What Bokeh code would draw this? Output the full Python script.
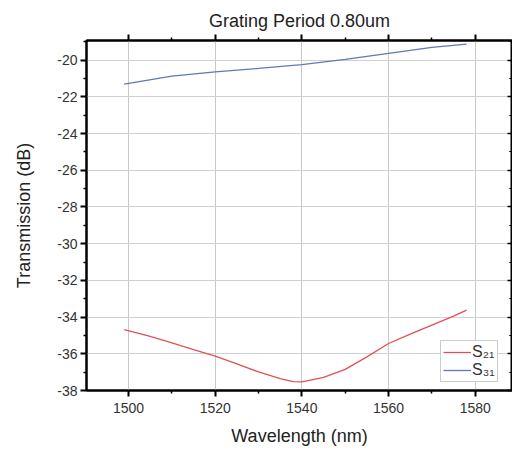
from bokeh.plotting import figure
from bokeh.models import Range1d, LinearAxis, Legend, LegendItem, FixedTicker
from bokeh.embed import file_html
from bokeh.resources import INLINE

# Data
wl_s21 = [1499, 1505, 1510, 1515, 1520, 1525, 1530, 1535, 1538, 1540, 1545, 1550, 1555, 1560, 1565, 1570, 1575, 1578]
s21 = [-34.68, -35.05, -35.41, -35.77, -36.13, -36.55, -36.99, -37.35, -37.52, -37.53, -37.29, -36.85, -36.17, -35.44, -34.93, -34.44, -33.95, -33.62]
wl_s31 = [1499, 1510, 1520, 1530, 1540, 1550, 1560, 1570, 1578]
s31 = [-21.31, -20.87, -20.64, -20.45, -20.24, -19.96, -19.63, -19.31, -19.13]
x_ticks = [1500, 1520, 1540, 1560, 1580]
y_ticks = [-38, -36, -34, -32, -30, -28, -26, -24, -22, -20]

FONT = "Liberation Sans"

p = figure(width=512, height=452, output_backend="svg", toolbar_location=None,
           x_range=Range1d(1490.3, 1588.6), y_range=Range1d(-38, -18.93),
           min_border_left=86, min_border_right=0, min_border_top=40, min_border_bottom=62)
p.title.text = "Grating Period 0.80um"
p.title.align = "center"
p.title.text_font = FONT
p.title.text_font_size = "18px"
p.title.text_font_style = "normal"
p.title.text_color = "#222222"
p.title.offset = 4
p.title.standoff = 7

p.outline_line_color = "black"
p.outline_line_width = 2

x_minor = [t + d for t in x_ticks for d in (-10, 10)]
y_minor = [t + d for t in y_ticks for d in (-1, 1)]

for ax, ticks, minor in ((p.xaxis[0], x_ticks, x_minor), (p.yaxis[0], y_ticks, y_minor)):
    ax.ticker = FixedTicker(ticks=ticks, minor_ticks=minor)
    ax.axis_line_width = 2
    ax.axis_line_color = "black"
    ax.major_tick_line_width = 2
    ax.major_tick_out = 6
    ax.major_tick_in = 0
    ax.minor_tick_out = 3
    ax.minor_tick_in = 0
    ax.minor_tick_line_width = 1.5
    ax.major_label_text_font = FONT
    ax.major_label_text_font_size = "14px"
    ax.major_label_text_color = "#333333"
    ax.axis_label_text_font = FONT
    ax.axis_label_text_font_size = "18px"
    ax.axis_label_text_font_style = "normal"
    ax.axis_label_text_color = "#222222"
    ax.major_label_overrides = {t: str(t) for t in ticks}

p.xaxis.axis_label = "Wavelength (nm)"
p.yaxis.axis_label = "Transmission (dB)"
p.xaxis.major_label_standoff = 6
p.yaxis.major_label_standoff = 3
p.xaxis.axis_label_standoff = 10
p.yaxis.axis_label_standoff = 20

top = LinearAxis(ticker=FixedTicker(ticks=x_ticks, minor_ticks=x_minor),
                 major_label_overrides={t: "" for t in x_ticks}, axis_line_width=2,
                 major_tick_out=6, major_tick_in=0, minor_tick_out=3, minor_tick_in=0,
                 major_tick_line_width=2, minor_tick_line_width=1.5)
p.add_layout(top, "above")

right = LinearAxis(ticker=FixedTicker(ticks=y_ticks, minor_ticks=y_minor),
                   major_label_overrides={t: "" for t in y_ticks}, axis_line_width=2,
                   major_tick_out=0, major_tick_in=5, minor_tick_out=0, minor_tick_in=3,
                   major_tick_line_width=1.5, minor_tick_line_width=1)
p.add_layout(right, "right")

p.xgrid.ticker = FixedTicker(ticks=x_ticks)
p.ygrid.ticker = FixedTicker(ticks=y_ticks)
p.xgrid.grid_line_color = "#c8c8c8"
p.ygrid.grid_line_color = "#d0d0d0"
p.xgrid.grid_line_width = 1
p.ygrid.grid_line_width = 1

r21 = p.line(wl_s21, s21, line_color="#e0505a", line_width=1.3)
r31 = p.line(wl_s31, s31, line_color="#6078b8", line_width=1.3)

legend = Legend(items=[LegendItem(label="S₂₁", renderers=[r21]),
                       LegendItem(label="S₃₁", renderers=[r31])],
                location=(354, 8), orientation="vertical",
                label_text_font=FONT, label_text_font_size="16px",
                label_text_color="#333333",
                glyph_width=28, glyph_height=16, label_standoff=1,
                spacing=0, padding=2, margin=0,
                border_line_color="#999999", border_line_width=1,
                label_height=16)
p.add_layout(legend)

open("out.html", "w").write(file_html(p, INLINE))
